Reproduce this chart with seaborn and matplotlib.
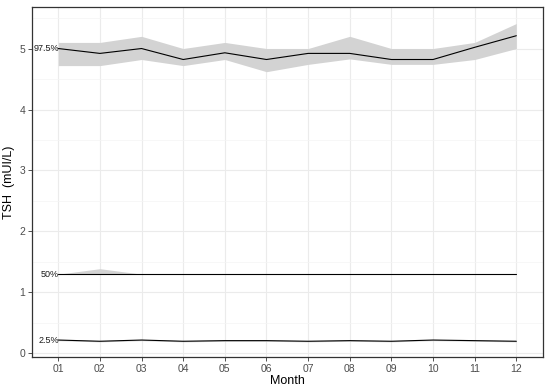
import pandas as pd
import matplotlib.pyplot as plt
import seaborn as sns
import numpy as np

# Monthly TSH reference limits (percentiles) with uncertainty bands
months = ['01', '02', '03', '04', '05', '06', '07', '08', '09', '10', '11', '12']

p975 = [5.0, 4.92, 5.0, 4.82, 4.93, 4.82, 4.92, 4.92, 4.82, 4.82, 5.02, 5.21]
p975_lo = [4.72, 4.72, 4.82, 4.72, 4.82, 4.62, 4.74, 4.83, 4.74, 4.74, 4.82, 5.0]
p975_hi = [5.1, 5.1, 5.2, 5.0, 5.1, 5.0, 5.0, 5.2, 5.0, 5.0, 5.1, 5.41]

p50 = [1.3, 1.3, 1.3, 1.3, 1.3, 1.3, 1.3, 1.3, 1.3, 1.3, 1.3, 1.3]
p50_lo = [1.3, 1.3, 1.3, 1.3, 1.3, 1.3, 1.3, 1.3, 1.3, 1.3, 1.3, 1.3]
p50_hi = [1.3, 1.39, 1.3, 1.3, 1.3, 1.3, 1.3, 1.3, 1.3, 1.3, 1.3, 1.3]

p025 = [0.22, 0.2, 0.22, 0.2, 0.21, 0.21, 0.2, 0.21, 0.2, 0.22, 0.21, 0.2]
p025_lo = [0.21, 0.19, 0.21, 0.19, 0.2, 0.2, 0.19, 0.2, 0.19, 0.21, 0.2, 0.19]
p025_hi = [0.23, 0.21, 0.23, 0.21, 0.22, 0.22, 0.21, 0.22, 0.21, 0.23, 0.22, 0.21]

labels = ['97.5%', '50%', '2.5%']

sns.set_theme(style='whitegrid')
plt.rcParams['font.family'] = ['Liberation Sans', 'DejaVu Sans']

fig = plt.figure(figsize=(5.5, 3.92), dpi=100)
ax = fig.add_axes([0.059, 0.089, 0.929, 0.893])

x = np.arange(len(months))
series = [(p975, p975_lo, p975_hi), (p50, p50_lo, p50_hi), (p025, p025_lo, p025_hi)]
rows = []
for lab, (mid, lo, hi) in zip(labels, series):
    ax.fill_between(x, lo, hi, color='#d3d3d3', lw=0, zorder=2)
    for i, m in enumerate(months):
        rows.append({'pos': i, 'value': mid[i], 'pct': lab})
df = pd.DataFrame(rows)

sns.lineplot(data=df, x='pos', y='value', units='pct', estimator=None,
             color='black', lw=0.8, ax=ax, zorder=3)

for lab, (mid, lo, hi) in zip(labels, series):
    ax.text(x[0] + 0.02, mid[0], lab, ha='right', va='center', fontsize=6.5,
            color='#1a1a1a', zorder=4)

ax.set_xlim(-0.62, 11.65)
ax.set_ylim(-0.06, 5.68)
ax.set_xticks(x)
ax.set_xticklabels(months)
ax.set_yticks([0, 1, 2, 3, 4, 5])
ax.set_yticks([0.5, 1.5, 2.5, 3.5, 4.5, 5.5], minor=True)

ax.set_facecolor('white')
ax.grid(which='major', color='#ebebeb', lw=0.8)
ax.grid(which='minor', axis='y', color='#f4f4f4', lw=0.5)
ax.set_axisbelow(True)
for s in ax.spines.values():
    s.set_color('#333333')
    s.set_linewidth(0.9)

ax.tick_params(axis='both', which='major', length=3, width=0.6, color='#333333',
               labelsize=7.5, labelcolor='#4d4d4d', pad=2, left=True, bottom=True)
ax.tick_params(axis='y', which='minor', length=0)
ax.set_xlabel('Month', fontsize=9, color='black', labelpad=1)
ax.set_ylabel('TSH  (mUI/L)', fontsize=9, color='black', labelpad=3)

fig.savefig('out.png', dpi=100)
